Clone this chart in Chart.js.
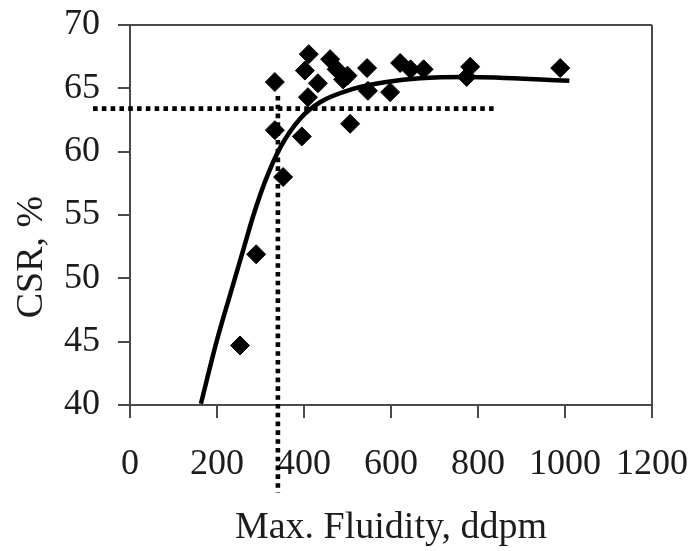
<!DOCTYPE html>
<html>
<head>
<meta charset="utf-8">
<script src="https://cdn.jsdelivr.net/npm/chart.js@4.4.1/dist/chart.umd.min.js"></script>
<style>
html,body{margin:0;padding:0;background:#ffffff;}
#wrap{width:694px;height:551px;position:relative;}
</style>
</head>
<body>
<div id="wrap"><canvas id="c" width="694" height="551"></canvas></div>
<script>
// ---- data ----
const fluidity = [253, 290, 333, 333, 352, 395, 402, 409, 411, 432, 460, 475, 490, 500, 506, 545, 547, 598, 621, 645, 675, 774, 782, 989];
const csr      = [44.7, 51.9, 61.7, 65.5, 58.0, 61.2, 66.4, 64.3, 67.7, 65.4, 67.3, 66.5, 65.7, 66.0, 62.2, 66.6, 64.8, 64.7, 67.0, 66.5, 66.5, 65.9, 66.7, 66.6];

const fitFluidity = [163, 199, 230, 260, 283, 310, 345, 391, 437, 513, 590, 667, 774, 1010];
const fitCSR      = [40.1, 45.0, 48.7, 52.2, 54.9, 57.6, 60.3, 62.6, 63.9, 64.95, 65.5, 65.8, 65.9, 65.6];

const thresholdCSR      = 63.4;   // horizontal dotted line
const thresholdCSRFrom  = -85;
const thresholdCSRTo    = 845;
const thresholdFluidity = 340;    // vertical dotted line
const thresholdFluidityTop    = 64.4;
const thresholdFluidityBottom = 33.1;

const xTickValues = [0, 200, 400, 600, 800, 1000, 1200];
const yTickValues = [40, 45, 50, 55, 60, 65, 70];

const xTitle = 'Max. Fluidity, ddpm';
const yTitle = 'CSR, %';

// ---- chart ----
const axisColor = '#4a4a4a';
const textColor = '#1c1c1c';
const FONT = '"Liberation Serif", "Times New Roman", serif';

const yTitlePlugin = {
  id: 'yTitlePlugin',
  afterDraw(chart) {
    const ctx = chart.ctx;
    ctx.save();
    ctx.fillStyle = textColor;
    ctx.font = '38px ' + FONT;
    ctx.textAlign = 'center';
    ctx.textBaseline = 'middle';
    ctx.translate(32, 257);
    ctx.rotate(-Math.PI / 2);
    ctx.fillText(yTitle, 0, 0);
    ctx.restore();
  }
};

new Chart(document.getElementById('c'), {
  type: 'scatter',
  data: {
    datasets: [
      {
        label: 'CSR',
        data: fluidity.map((v, i) => ({x: v, y: csr[i]})),
        pointStyle: 'rectRot',
        pointRadius: 9.5,
        pointHoverRadius: 9.5,
        backgroundColor: '#000000',
        borderColor: '#000000',
        borderWidth: 1,
        showLine: false,
        order: 0
      },
      {
        label: 'fit',
        data: fitFluidity.map((v, i) => ({x: v, y: fitCSR[i]})),
        showLine: true,
        borderColor: '#000000',
        borderWidth: 4.5,
        pointRadius: 0,
        cubicInterpolationMode: 'monotone',
        fill: false,
        order: 1
      },
      {
        label: 'threshold CSR',
        data: [{x: thresholdCSRFrom, y: thresholdCSR}, {x: thresholdCSRTo, y: thresholdCSR}],
        showLine: true,
        borderColor: '#000000',
        borderWidth: 4.6,
        borderDash: [4.6, 4.2],
        borderCapStyle: 'butt',
        pointRadius: 0,
        clip: false,
        order: 2
      },
      {
        label: 'threshold fluidity',
        data: [{x: thresholdFluidity, y: thresholdFluidityTop}, {x: thresholdFluidity, y: thresholdFluidityBottom}],
        showLine: true,
        borderColor: '#000000',
        borderWidth: 4.6,
        borderDash: [4.6, 4.2],
        borderCapStyle: 'butt',
        pointRadius: 0,
        clip: false,
        order: 2
      }
    ]
  },
  options: {
    responsive: false,
    animation: false,
    devicePixelRatio: 1,
    layout: {padding: {top: 25, right: 42, bottom: 0, left: 0}},
    plugins: {
      legend: {display: false},
      tooltip: {enabled: false}
    },
    scales: {
      x: {
        type: 'linear',
        min: 0, max: 1200,
        afterBuildTicks: s => { s.ticks = xTickValues.map(v => ({value: v})); },
        afterFit: s => { s.height = 146; s.paddingLeft = 0; s.paddingRight = 0; },
        ticks: {
          color: textColor,
          font: {family: FONT, size: 36},
          padding: 25,
          maxRotation: 0,
          autoSkip: false,
          callback: v => String(v)
        },
        grid: {
          color: c => (c.tick && c.tick.value === 1200) ? axisColor : 'rgba(0,0,0,0)',
          tickColor: axisColor,
          tickLength: 13,
          lineWidth: 2,
          drawOnChartArea: true
        },
        border: {display: true, color: axisColor, width: 2},
        title: {
          display: true,
          text: xTitle,
          color: textColor,
          font: {family: FONT, size: 38},
          padding: {top: 0, bottom: 0}
        }
      },
      y: {
        type: 'linear',
        min: 40, max: 70,
        afterBuildTicks: s => { s.ticks = yTickValues.map(v => ({value: v})); },
        afterFit: s => { s.width = 130; s.paddingTop = 0; s.paddingBottom = 0; },
        ticks: {
          color: textColor,
          font: {family: FONT, size: 36},
          padding: 18,
          autoSkip: false,
          callback: v => String(v)
        },
        grid: {
          color: c => (c.tick && c.tick.value === 70) ? axisColor : 'rgba(0,0,0,0)',
          tickColor: axisColor,
          tickLength: 12,
          lineWidth: 2,
          drawOnChartArea: true
        },
        border: {display: true, color: axisColor, width: 2},
        title: {display: false, text: yTitle}
      }
    }
  },
  plugins: [yTitlePlugin]
});
</script>
</body>
</html>
